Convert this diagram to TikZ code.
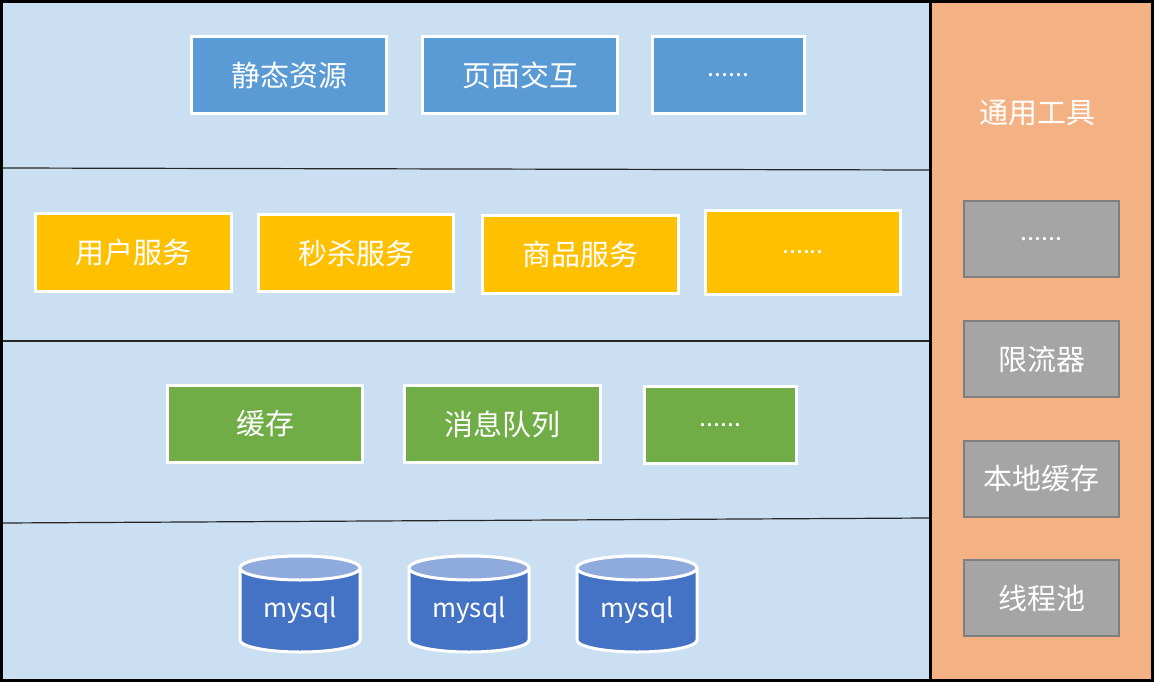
\documentclass[tikz,border=0pt]{standalone}
\usepackage{fontspec}
\newfontfamily\cjk{Noto Sans CJK SC}
\usetikzlibrary{shapes.geometric}
\definecolor{bgblue}{HTML}{CBDFF2}
\definecolor{bgorange}{HTML}{F4B183}
\definecolor{cblue}{HTML}{5B9BD5}
\definecolor{cyellow}{HTML}{FFC000}
\definecolor{cgreen}{HTML}{70AD47}
\definecolor{cgray}{HTML}{A5A5A5}
\definecolor{cgrayb}{HTML}{7F7F7F}
\definecolor{dbbody}{HTML}{4472C4}
\definecolor{dbtop}{HTML}{8FAADC}
\tikzset{
  box/.style={draw=white, line width=3pt, text=white, font=\cjk\fontsize{29}{34}\selectfont, inner sep=0pt, anchor=north west},
  dots/.style={font=\cjk\fontsize{25}{30}\selectfont, text=white, inner sep=0pt},
  tool/.style={draw=cgrayb, fill=cgray, line width=2pt, text=white, font=\cjk\fontsize{29}{34}\selectfont, inner sep=0pt, anchor=north west, minimum width=155pt, minimum height=76pt},
  sep/.style={draw=black!85, line width=1.2pt},
}
\begin{document}
\begin{tikzpicture}[x=1pt,y=-1pt]
\useasboundingbox (0,0) rectangle (1154,682);
% backgrounds
\fill[bgblue] (0,0) rectangle (930,682);
\fill[bgorange] (930,0) rectangle (1154,682);
\draw[black, line width=3pt] (1.5,1.5) rectangle (1152.5,680.5);
\draw[black, line width=3pt] (930,0) -- (930,682);
% separators
\coordinate (s1l) at (3,168); \coordinate (s1r) at (929,170);
\coordinate (s2l) at (3,341); \coordinate (s2r) at (929,341);
\coordinate (s3l) at (3,523); \coordinate (s3r) at (929,518);
\draw[sep] (s1l) -- (s1r);
\draw[sep] (s2l) -- (s2r);
\draw[sep] (s3l) -- (s3r);
% row 1
\node[box, fill=cblue, minimum width=195pt, minimum height=77pt] (a1) at (190,35) {静态资源};
\node[box, fill=cblue, minimum width=195pt, minimum height=77pt] (a2) at (421,35) {页面交互};
\node[box, fill=cblue, minimum width=152pt, minimum height=77pt] (a3) at (651,35) {};
\node[dots] at (a3.center) {......};
% row 2
\node[box, fill=cyellow, minimum width=196pt, minimum height=78pt] (b1) at (34,212) {用户服务};
\node[box, fill=cyellow, minimum width=195pt, minimum height=77pt] (b2) at (257,213) {秒杀服务};
\node[box, fill=cyellow, minimum width=196pt, minimum height=78pt] (b3) at (481,214) {商品服务};
\node[box, fill=cyellow, minimum width=195pt, minimum height=84pt] (b4) at (704,209) {};
\node[dots] at (b4.center) {......};
% row 3
\node[box, fill=cgreen, minimum width=195pt, minimum height=77pt] (c1) at (166,384) {缓存};
\node[box, fill=cgreen, minimum width=196pt, minimum height=77pt] (c2) at (403,384) {消息队列};
\node[box, fill=cgreen, minimum width=152pt, minimum height=77pt] (c3) at (643,385) {};
\node[dots] at (c3.center) {......};
% databases
\foreach \cx/\nm in {300/d1,469/d2,637/d3}{
  \begin{scope}[shift={(\cx,0)}]
    \draw[white, line width=3pt, fill=dbbody] (-60,568) -- (-60,640) arc[start angle=180,end angle=0,x radius=60,y radius=12] -- (60,568) arc[start angle=0,end angle=-180,x radius=60,y radius=12] -- cycle;
    \draw[white, line width=3pt, fill=dbtop] (0,568) ellipse[x radius=60,y radius=12];
    \node[text=white, font=\cjk\fontsize{26}{30}\selectfont] (\nm) at (0,610) {mysql};
  \end{scope}
}
% right column
\node[text=white, font=\cjk\fontsize{29}{34}\selectfont] (t) at (1037,113) {通用工具};
\node[tool] (r1) at (963,200) {};
\node[dots] at (r1.center) {......};
\node[tool] (r2) at (963,320) {限流器};
\node[tool] (r3) at (963,440) {本地缓存};
\node[tool] (r4) at (963,559) {线程池};
\end{tikzpicture}
\end{document}
